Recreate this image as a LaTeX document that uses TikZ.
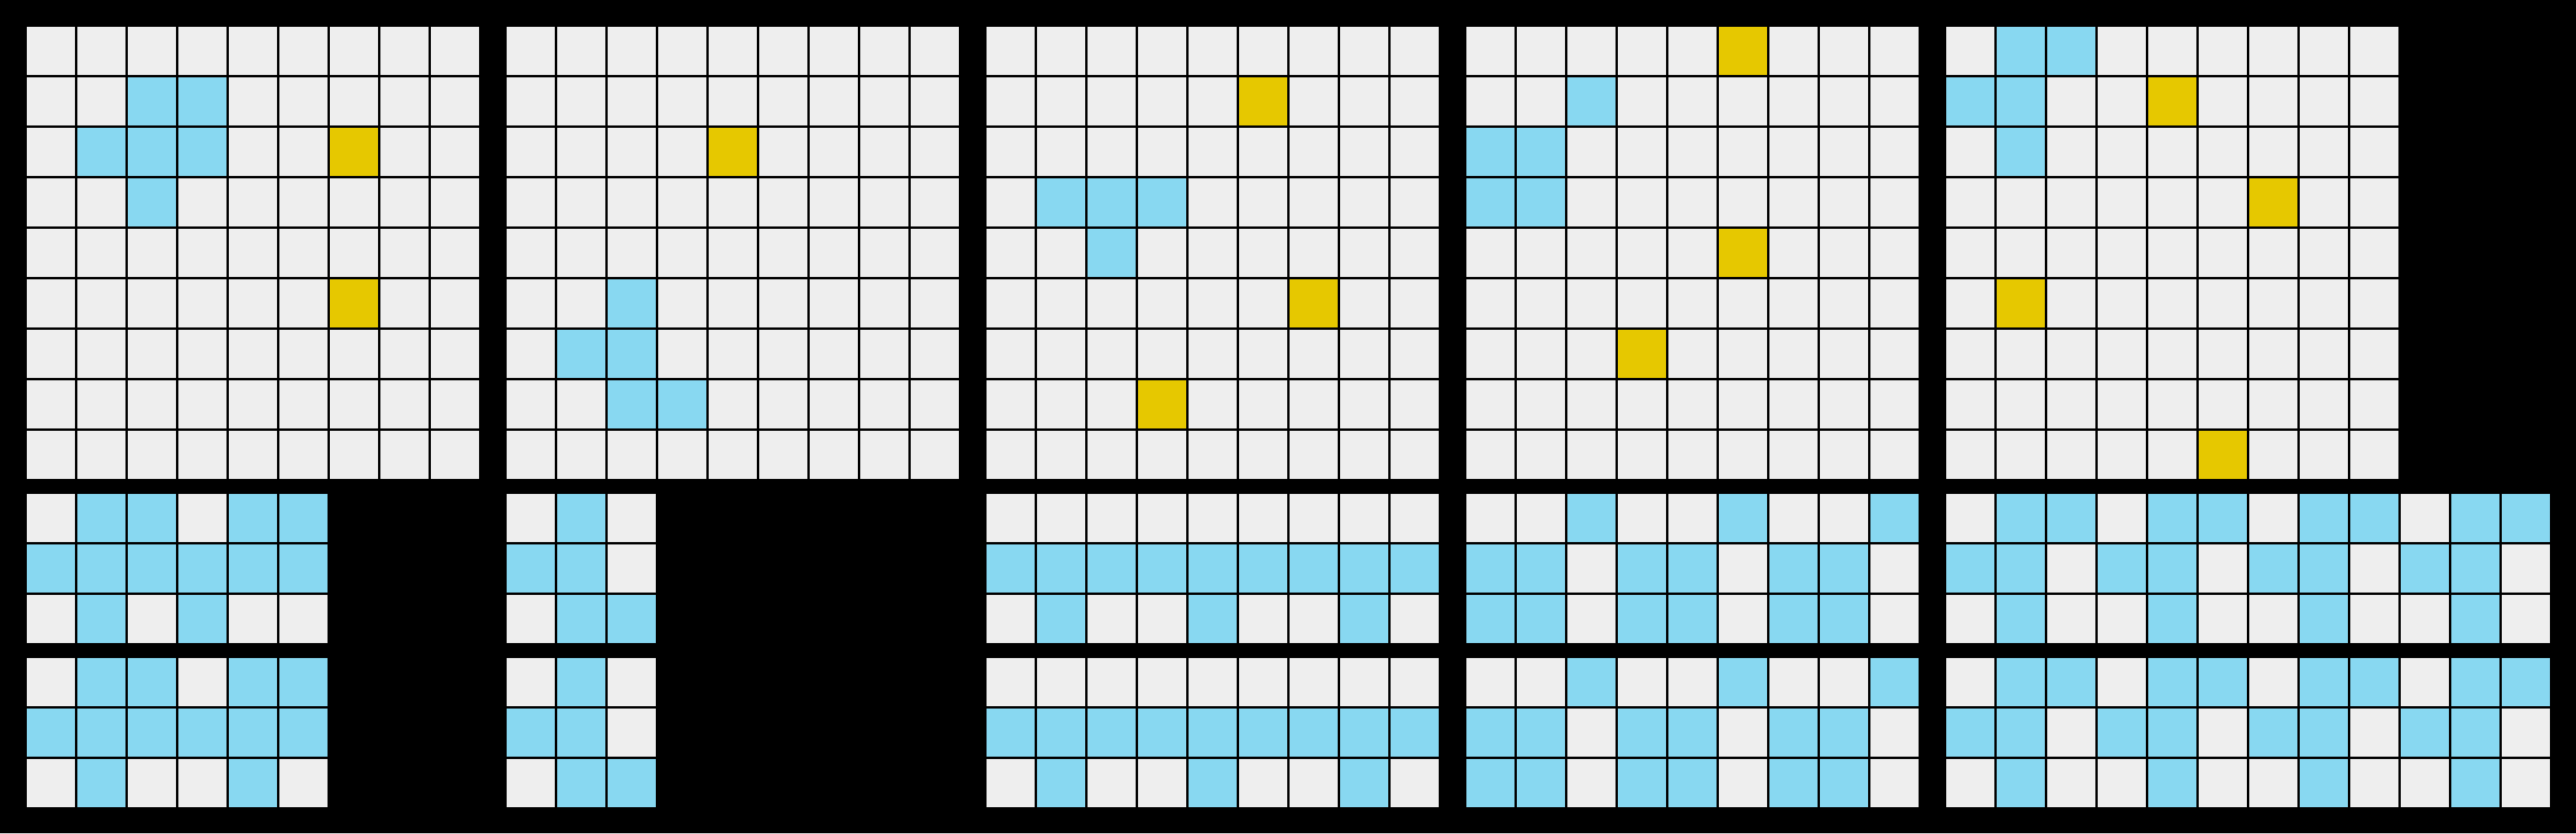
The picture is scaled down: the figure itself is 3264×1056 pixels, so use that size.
\documentclass[tikz,border=0pt]{standalone}
\usepackage{tikz}
\definecolor{arcgray}{HTML}{EEEEEE}
\definecolor{arcblue}{HTML}{88D8F1}
\definecolor{arcyellow}{HTML}{E6C800}

\newcommand{\arcgrid}[4]{%
  \foreach \cx in {1,...,#3}
    \foreach \cy in {1,...,#4}
      \fill[graycell] ({#1+64*(\cx-1)}, {#2+64*(\cy-1)}) rectangle ++(61,61);
}
\newcommand{\arcpaint}[4]{%
  \foreach \cx/\cy in {#4}
    \fill[#3] ({#1+64*\cx}, {#2+64*\cy}) rectangle ++(61,61);
}

\begin{document}
\begin{tikzpicture}[x=0.01cm, y=-0.01cm,
    graycell/.style={fill=arcgray},
    bluecell/.style={fill=arcblue},
    yellowcell/.style={fill=arcyellow}]

    \fill[black] (0,0) rectangle (3264,1056);

    \arcgrid{34}{34}{9}{9}
    \arcpaint{34}{34}{bluecell}{2/1,3/1,1/2,2/2,3/2,2/3}
    \arcpaint{34}{34}{yellowcell}{6/2,6/5}
    \arcgrid{34}{626}{6}{3}
    \arcpaint{34}{626}{bluecell}{1/0,2/0,4/0,5/0,0/1,1/1,2/1,3/1,4/1,5/1,1/2,3/2}
    \arcgrid{34}{834}{6}{3}
    \arcpaint{34}{834}{bluecell}{1/0,2/0,4/0,5/0,0/1,1/1,2/1,3/1,4/1,5/1,1/2,4/2}

    \arcgrid{642}{34}{9}{9}
    \arcpaint{642}{34}{bluecell}{2/5,1/6,2/6,2/7,3/7}
    \arcpaint{642}{34}{yellowcell}{4/2}
    \arcgrid{642}{626}{3}{3}
    \arcpaint{642}{626}{bluecell}{1/0,0/1,1/1,1/2,2/2}
    \arcgrid{642}{834}{3}{3}
    \arcpaint{642}{834}{bluecell}{1/0,0/1,1/1,1/2,2/2}

    \arcgrid{1250}{34}{9}{9}
    \arcpaint{1250}{34}{bluecell}{1/3,2/3,3/3,2/4}
    \arcpaint{1250}{34}{yellowcell}{5/1,6/5,3/7}
    \arcgrid{1250}{626}{9}{3}
    \arcpaint{1250}{626}{bluecell}{0/1,1/1,2/1,3/1,4/1,5/1,6/1,7/1,8/1,1/2,4/2,7/2}
    \arcgrid{1250}{834}{9}{3}
    \arcpaint{1250}{834}{bluecell}{0/1,1/1,2/1,3/1,4/1,5/1,6/1,7/1,8/1,1/2,4/2,7/2}

    \arcgrid{1858}{34}{9}{9}
    \arcpaint{1858}{34}{bluecell}{2/1,0/2,1/2,0/3,1/3}
    \arcpaint{1858}{34}{yellowcell}{5/0,5/4,3/6}
    \arcgrid{1858}{626}{9}{3}
    \arcpaint{1858}{626}{bluecell}{2/0,5/0,8/0,0/1,1/1,3/1,4/1,6/1,7/1,0/2,1/2,3/2,4/2,6/2,7/2}
    \arcgrid{1858}{834}{9}{3}
    \arcpaint{1858}{834}{bluecell}{2/0,5/0,8/0,0/1,1/1,3/1,4/1,6/1,7/1,0/2,1/2,3/2,4/2,6/2,7/2}

    \arcgrid{2466}{34}{9}{9}
    \arcpaint{2466}{34}{bluecell}{1/0,2/0,0/1,1/1,1/2}
    \arcpaint{2466}{34}{yellowcell}{4/1,6/3,1/5,5/8}
    \arcgrid{2466}{626}{12}{3}
    \arcpaint{2466}{626}{bluecell}{1/0,2/0,4/0,5/0,7/0,8/0,10/0,11/0,0/1,1/1,3/1,4/1,6/1,7/1,9/1,10/1,1/2,4/2,7/2,10/2}
    \arcgrid{2466}{834}{12}{3}
    \arcpaint{2466}{834}{bluecell}{1/0,2/0,4/0,5/0,7/0,8/0,10/0,11/0,0/1,1/1,3/1,4/1,6/1,7/1,9/1,10/1,1/2,4/2,7/2,10/2}
\end{tikzpicture}
\end{document}
